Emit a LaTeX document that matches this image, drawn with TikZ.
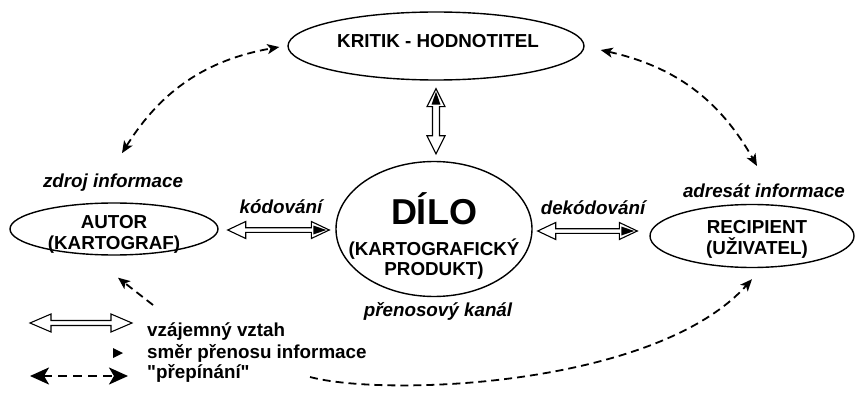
\documentclass[tikz,border=0pt]{standalone}
\usepackage{fontspec}
\setmainfont{Liberation Sans}
\usetikzlibrary{calc,shapes.geometric,arrows.meta}
\tikzset{
  ell/.style={draw, ellipse, line width=1.4pt, inner sep=0pt},
  lbl/.style={font=\bfseries\fontsize{18.8}{21}\selectfont, inner sep=0pt, anchor=base},
  big/.style={font=\bfseries\fontsize{36}{40}\selectfont, inner sep=0pt, anchor=base},
  ilbl/.style={font=\bfseries\itshape\fontsize{18.8}{21}\selectfont, inner sep=0pt, anchor=base},
  leg/.style={font=\bfseries\fontsize{18.8}{21}\selectfont, inner sep=0pt, anchor=base west},
  dasharr/.style={line width=1.8pt, dash pattern=on 8pt off 5pt},
  tipS/.style={-{Stealth[length=12pt,width=10pt,inset=3pt]}},
  tipD/.style={{Stealth[length=12pt,width=10pt,inset=3pt]}-{Stealth[length=12pt,width=10pt,inset=3pt]}},
  hollow/.style={draw, fill=white, line width=1.1pt, line join=miter},
}
% hollow double arrow, tips at #1 and #2, head length #3, head half width #4, shaft half width #5
\newcommand\hollowarrow[5]{%
  \draw[hollow] (#1) -- ($(#1)!#3!(#2)!#4!90:(#2)$) -- ($(#1)!#3!(#2)!#5!90:(#2)$)
   -- ($(#2)!#3!(#1)!#5!-90:(#1)$) -- ($(#2)!#3!(#1)!#4!-90:(#1)$) -- (#2)
   -- ($(#2)!#3!(#1)!#4!90:(#1)$) -- ($(#2)!#3!(#1)!#5!90:(#1)$)
   -- ($(#1)!#3!(#2)!#5!-90:(#2)$) -- ($(#1)!#3!(#2)!#4!-90:(#2)$) -- cycle;}
% black direction mark inside the head at #2
\newcommand\blackhead[4]{%
  \fill ($(#2)!#3!(#1)!#4!90:(#1)$) -- ($(#2)!#3!(#1)!#4!-90:(#1)$) -- ($(#2)!3pt!(#1)$) -- cycle;}
\begin{document}
\begin{tikzpicture}[x=1pt,y=-1pt]
\useasboundingbox (0,0) rectangle (857,393);
% main ellipses
\node[ell, minimum width=296pt, minimum height=68pt] (kritik) at (436,46) {};
\node[ell, minimum width=208pt, minimum height=52pt] (autor) at (114,229) {};
\node[ell, minimum width=196pt, minimum height=135pt] (dilo) at (434,229) {};
\node[ell, minimum width=204pt, minimum height=63pt] (recip) at (752,236) {};
% texts
\node[lbl] (kritikT) at (438,48) {KRITIK - HODNOTITEL};
\node[lbl] (autorT1) at (114,228) {AUTOR};
\node[lbl] (autorT2) at (114,249) {(KARTOGRAF)};
\node[big] (diloT1) at (434,224) {DÍLO};
\node[lbl] (diloT2) at (434,255) {(KARTOGRAFICKÝ};
\node[lbl] (diloT3) at (434,275) {PRODUKT)};
\node[lbl] (recipT1) at (757,233) {RECIPIENT};
\node[lbl] (recipT2) at (757,254) {(UŽIVATEL)};
\node[ilbl] (zdroj) at (113,188) {zdroj informace};
\node[ilbl] (kod) at (281,213) {kódování};
\node[ilbl] (dekod) at (593,214) {dekódování};
\node[ilbl] (adres) at (764,197) {adresát informace};
\node[ilbl] (kanal) at (438,316) {přenosový kanál};
% hollow arrows
\coordinate (k1) at ($(autor.east)+(9,1)$);
\coordinate (k2) at ($(autor.east -| dilo.west)+(-6,1)$);
\hollowarrow{k1}{k2}{18pt}{8.5pt}{2.3pt}
\blackhead{k1}{k2}{16pt}{4.5pt}
\coordinate (d1) at ($(dilo.east)+(5,2)$);
\coordinate (d2) at ($(dilo.east -| recip.west)+(-12,2)$);
\hollowarrow{d1}{d2}{18pt}{8.5pt}{2.3pt}
\blackhead{d1}{d2}{16pt}{4.5pt}
\coordinate (v1) at ($(kritik.south |- dilo.north)+(0,-7)$);
\coordinate (v2) at ($(kritik.south)+(0,8)$);
\hollowarrow{v1}{v2}{18pt}{9pt}{3.5pt}
\blackhead{v1}{v2}{16pt}{4.5pt}
% dashed connections
\coordinate (za) at ($(zdroj.north)+(9,-21)$);
\coordinate (kw) at ($(kritik.west)+(-8,1)$);
\draw[dasharr, tipD] (za) to[bend left=24] (kw);
\coordinate (ke) at ($(kritik.east)+(16,4)$);
\coordinate (ra) at ($(adres.north)+(-7,-17)$);
\draw[dasharr, tipD] (ke) to[bend left=24] (ra);
\coordinate (as) at ($(autor.south)+(4,22)$);
\coordinate (bs1) at (153,305);
\draw[dasharr, tipS] (bs1) -- (as);
\coordinate (rs) at ($(recip.south)+(0,11)$);
\coordinate (bs2) at (310,377);
\draw[dasharr, tipS] (bs2) .. controls (385,397) and (655,387) .. (rs);
% legend
\coordinate (l1a) at (30,323);
\coordinate (l1b) at (132,323);
\hollowarrow{l1a}{l1b}{21pt}{9pt}{2.5pt}
\node[leg] (leg1) at (147,336) {vzájemný vztah};
\fill (113,348) -- (123,353) -- (113,358) -- cycle;
\node[leg] (leg2) at (147,358) {směr přenosu informace};
\coordinate (l3a) at (30,376);
\coordinate (l3b) at (128,376);
\draw[line width=2.5pt, dash pattern=on 9pt off 6pt, {Stealth[length=19pt,width=17pt,inset=5pt]}-{Stealth[length=19pt,width=17pt,inset=5pt]}] (l3a) -- (l3b);
\node[leg] (leg3) at (147,378) {\textquotedbl přepínání\textquotedbl};
\end{tikzpicture}
\end{document}
